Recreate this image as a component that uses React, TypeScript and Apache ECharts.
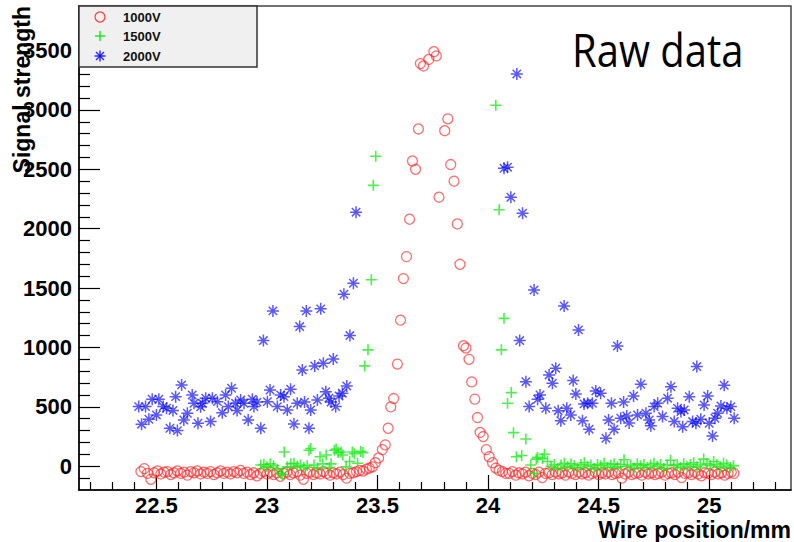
import { useEffect, useRef } from "react";
import * as echarts from "echarts";

// Axis ranges and ticks (wire position in mm, signal in ADC counts)
const X_MIN = 22.15;
const X_MAX = 25.37;
const Y_MIN = -200;
const Y_MAX = 3875;
const xMajorTicks = [22.5, 23, 23.5, 24, 24.5, 25];
const xMinorTicks = [
  22.2, 22.3, 22.4, 22.6, 22.7, 22.8, 22.9, 23.1, 23.2, 23.3, 23.4, 23.6, 23.7, 23.8, 23.9,
  24.1, 24.2, 24.3, 24.4, 24.6, 24.7, 24.8, 24.9, 25.1, 25.2, 25.3,
];
const yMajorTicks = [0, 500, 1000, 1500, 2000, 2500, 3000, 3500];
const yMinorTicks = [
  -100, 100, 200, 300, 400, 600, 700, 800, 900, 1100, 1200, 1300, 1400, 1600, 1700, 1800, 1900,
  2100, 2200, 2300, 2400, 2600, 2700, 2800, 2900, 3100, 3200, 3300, 3400, 3600, 3700, 3800,
];

const seriesNames = ["1000V", "1500V", "2000V"];

// 1000V scan: [position, signal]
const v1000 = [
  [22.43, -45], [22.445, -20], [22.46, -60], [22.475, -110], [22.49, -55], [22.505, -40],
  [22.52, -65], [22.535, -50], [22.55, -45], [22.565, -70], [22.58, -55], [22.595, -40],
  [22.61, -60], [22.625, -50], [22.64, -75], [22.655, -45], [22.67, -55], [22.685, -40],
  [22.7, -65], [22.715, -50], [22.73, -60], [22.745, -45], [22.76, -70], [22.775, -55],
  [22.79, -40], [22.805, -60], [22.82, -50], [22.835, -65], [22.85, -45], [22.865, -55],
  [22.88, -35], [22.895, -60], [22.91, -50], [22.925, -70], [22.94, -55], [22.955, -80],
  [22.97, -60], [22.985, -45], [23.0, -65], [23.015, -50], [23.03, -70], [23.045, -55],
  [23.06, -85], [23.075, -60], [23.09, -50], [23.105, -70], [23.12, -55], [23.135, -45],
  [23.15, -75], [23.165, -110], [23.18, -60], [23.195, -50], [23.21, -70], [23.225, -55],
  [23.24, -65], [23.255, -45], [23.27, -60], [23.285, -75], [23.3, -55], [23.315, -65],
  [23.33, -50], [23.345, -70], [23.36, -100], [23.375, -60], [23.39, -55], [23.405, -45],
  [23.42, -35], [23.435, -40], [23.45, -25], [23.463, -15], [23.477, -5], [23.49, 30],
  [23.505, 70], [23.522, 140], [23.535, 180], [23.548, 320], [23.56, 500], [23.573, 570],
  [23.59, 860], [23.604, 1230], [23.617, 1580], [23.631, 1765], [23.645, 2080], [23.658, 2570],
  [23.672, 2500], [23.685, 2840], [23.694, 3390], [23.708, 3370], [23.732, 3425], [23.755, 3490],
  [23.766, 3455], [23.778, 2265], [23.804, 2825], [23.818, 2925], [23.831, 2540], [23.846, 2400],
  [23.861, 2040], [23.873, 1700], [23.889, 1015], [23.9, 995], [23.914, 900], [23.926, 710],
  [23.94, 565], [23.952, 410], [23.964, 285], [23.978, 250], [23.992, 140], [24.005, 80],
  [24.02, 30], [24.035, -15], [24.05, -35], [24.065, -45], [24.08, -60], [24.095, -60],
  [24.11, -45], [24.125, -75], [24.14, -55], [24.155, -65], [24.17, -50], [24.185, -80],
  [24.2, -60], [24.215, -70], [24.23, -50], [24.245, -95], [24.26, -60], [24.275, -55],
  [24.29, -70], [24.305, -50], [24.32, -65], [24.335, -55], [24.35, -75], [24.365, -50],
  [24.38, -60], [24.395, -70], [24.41, -50], [24.425, -65], [24.44, -55], [24.455, -75],
  [24.47, -60], [24.485, -50], [24.5, -70], [24.515, -55], [24.53, -65], [24.545, -50],
  [24.56, -70], [24.575, -60], [24.59, -55], [24.605, -100], [24.62, -65], [24.635, -50],
  [24.65, -70], [24.665, -60], [24.68, -55], [24.695, -75], [24.71, -50], [24.725, -65],
  [24.74, -55], [24.755, -70], [24.77, -60], [24.785, -50], [24.8, -75], [24.815, -60],
  [24.83, -55], [24.845, -70], [24.86, -50], [24.875, -95], [24.89, -60], [24.905, -55],
  [24.92, -70], [24.935, -50], [24.95, -65], [24.965, -80], [24.98, -55], [24.995, -60],
  [25.01, -70], [25.025, -50], [25.04, -65], [25.055, -55], [25.07, -75], [25.085, -60],
  [25.1, -50], [25.112, -60],
];

// 1500V scan
const v1500 = [
  [22.972, 10], [22.986, 15], [23.0, -5], [23.015, 20], [23.03, 5], [23.047, -25],
  [23.062, -60], [23.07, -70], [23.078, 120], [23.092, -5], [23.108, 20], [23.122, 25],
  [23.137, 0], [23.152, 10], [23.167, -10], [23.182, 5], [23.19, 135], [23.198, 150],
  [23.213, 10], [23.228, -15], [23.24, 80], [23.252, 20], [23.268, 95], [23.282, -10],
  [23.29, 20], [23.305, 135], [23.313, 145], [23.322, 115], [23.335, 120], [23.343, 95],
  [23.358, -5], [23.374, 40], [23.386, 120], [23.395, 105], [23.41, 25], [23.424, 125],
  [23.434, 115], [23.442, 845], [23.457, 980], [23.472, 1570], [23.481, 2365], [23.492, 2610],
  [24.035, 3040], [24.05, 2160], [24.06, 980], [24.072, 1245], [24.088, 530], [24.105, 620],
  [24.115, 283], [24.128, 80], [24.152, 90], [24.171, 230], [24.193, 10], [24.208, -60],
  [24.218, 60], [24.224, 75], [24.246, 65], [24.255, 100], [24.269, 40], [24.285, 0],
  [24.3, 15], [24.315, -20], [24.33, 10], [24.345, 25], [24.36, -5], [24.375, 20],
  [24.39, 5], [24.405, -15], [24.42, 15], [24.435, 30], [24.45, 0], [24.465, 10],
  [24.48, -20], [24.495, 15], [24.51, 5], [24.525, 25], [24.54, -10], [24.555, 10],
  [24.57, 20], [24.585, -5], [24.6, 15], [24.615, 55], [24.63, 0], [24.645, 10],
  [24.66, -15], [24.675, 20], [24.69, 5], [24.705, 15], [24.72, -10], [24.735, 10],
  [24.75, 25], [24.765, 0], [24.78, 15], [24.795, -20], [24.81, 10], [24.825, 50],
  [24.84, 5], [24.855, 15], [24.87, -10], [24.885, 20], [24.9, 0], [24.915, 15],
  [24.93, 30], [24.945, -5], [24.96, 10], [24.975, 60], [24.99, 20], [25.005, 5],
  [25.02, 40], [25.035, 15], [25.05, -5], [25.065, 25], [25.08, 10], [25.095, -10],
  [25.11, 5],
];

// 2000V scan
const v2000 = [
  [22.42, 502], [22.433, 354], [22.451, 502], [22.466, 396], [22.481, 564], [22.5, 432],
  [22.511, 564], [22.531, 502], [22.546, 488], [22.561, 320], [22.575, 470], [22.587, 586],
  [22.595, 300], [22.614, 685], [22.624, 390], [22.64, 446], [22.662, 600], [22.67, 530],
  [22.688, 362], [22.7, 500], [22.708, 530], [22.723, 573], [22.745, 376], [22.753, 573],
  [22.776, 544], [22.798, 451], [22.813, 600], [22.825, 502], [22.84, 657], [22.858, 530],
  [22.865, 470], [22.881, 558], [22.896, 530], [22.915, 390], [22.934, 564], [22.941, 502],
  [22.955, 540], [22.972, 320], [22.984, 1058], [23.002, 544], [23.014, 642], [23.027, 1308],
  [23.047, 502], [23.062, 600], [23.077, 586], [23.092, 474], [23.107, 648], [23.122, 356],
  [23.137, 530], [23.148, 1176], [23.16, 811], [23.17, 540], [23.178, 1308], [23.19, 320],
  [23.198, 474], [23.216, 845], [23.228, 558], [23.243, 1325], [23.255, 867], [23.266, 628],
  [23.28, 573], [23.29, 540], [23.3, 903], [23.311, 502], [23.326, 592], [23.341, 615],
  [23.348, 1448], [23.361, 676], [23.375, 1100], [23.391, 1541], [23.403, 2139],
  [24.072, 2509], [24.088, 2518], [24.103, 2265], [24.13, 3303], [24.143, 1058], [24.156, 2130],
  [24.171, 712], [24.186, 502], [24.208, 1484], [24.224, 564], [24.235, 600], [24.261, 488],
  [24.276, 769], [24.291, 699], [24.306, 825], [24.317, 468], [24.329, 384], [24.344, 1350],
  [24.356, 488], [24.374, 432], [24.385, 721], [24.397, 609], [24.409, 1148], [24.427, 384],
  [24.434, 525], [24.45, 530], [24.457, 312], [24.472, 530], [24.487, 634], [24.509, 615],
  [24.533, 236], [24.545, 390], [24.558, 530], [24.57, 312], [24.585, 1013], [24.6, 404],
  [24.613, 540], [24.627, 424], [24.638, 365], [24.658, 592], [24.676, 432], [24.691, 690],
  [24.714, 446], [24.729, 390], [24.736, 340], [24.751, 502], [24.767, 530], [24.789, 418],
  [24.812, 573], [24.827, 670], [24.842, 376], [24.857, 488], [24.872, 460], [24.88, 333],
  [24.887, 474], [24.91, 586], [24.925, 376], [24.94, 362], [24.944, 839], [24.962, 396],
  [24.977, 516], [24.993, 592], [25.0, 362], [25.015, 255], [25.026, 404], [25.038, 446],
  [25.053, 508], [25.068, 682], [25.08, 488], [25.098, 502], [25.113, 404],
];

const RED = "rgba(255,40,40,0.85)";
const GREEN = "rgba(20,235,20,0.95)";
const BLUE = "rgba(10,10,255,0.85)";
const FONT = "'Liberation Sans', Arial, Helvetica, sans-serif";

const PLUS = "path://M0,5L10,5M5,0L5,10";
const STAR = "path://M0,5L10,5M5,0L5,10M1.5,1.5L8.5,8.5M8.5,1.5L1.5,8.5";

function legendMarkers(cx: number, cy: number[]) {
  const z = 101;
  const items: any[] = [];
  items.push({ type: "circle", z, shape: { cx, cy: cy[0], r: 5 }, style: { fill: "none", stroke: RED, lineWidth: 1.3 } });
  items.push({ type: "line", z, shape: { x1: cx - 5, y1: cy[1], x2: cx + 5, y2: cy[1] }, style: { stroke: GREEN, lineWidth: 1.5 } });
  items.push({ type: "line", z, shape: { x1: cx, y1: cy[1] - 5, x2: cx, y2: cy[1] + 5 }, style: { stroke: GREEN, lineWidth: 1.5 } });
  const s = 5.5;
  const d = 4;
  [
    [-s, 0, s, 0],
    [0, -s, 0, s],
    [-d, -d, d, d],
    [d, -d, -d, d],
  ].forEach(([a, b, c, e]) =>
    items.push({ type: "line", z, shape: { x1: cx + a, y1: cy[2] + b, x2: cx + c, y2: cy[2] + e }, style: { stroke: BLUE, lineWidth: 1.5 } })
  );
  return items;
}

export default function App() {
  const ref = useRef<HTMLDivElement>(null);

  useEffect(() => {
    if (!ref.current) return;
    const chart = echarts.init(ref.current, null, { renderer: "svg" });

    const legendY = [17, 36, 56];
    const option: any = {
      animation: false,
      backgroundColor: "#ffffff",
      grid: {
        left: 79,
        right: 3,
        top: 6,
        bottom: 52,
        show: true,
        borderColor: "#444",
        borderWidth: 1.5,
        outerBoundsMode: "none",
      },
      xAxis: [
        {
          type: "value",
          min: X_MIN,
          max: X_MAX,
          position: "bottom",
          axisLine: { show: true, onZero: false, lineStyle: { color: "#000", width: 1.5 } },
          axisTick: { show: true, inside: true, length: 15, customValues: xMajorTicks, lineStyle: { color: "#000", width: 1.2 } },
          axisLabel: {
            customValues: xMajorTicks,
            formatter: (v: number) => String(v),
            fontSize: 22,
            lineHeight: 22,
            fontWeight: "bold",
            fontFamily: FONT,
            color: "#000",
            margin: 4,
          },
          splitLine: { show: false },
        },
        {
          type: "value",
          min: X_MIN,
          max: X_MAX,
          position: "bottom",
          axisLine: { show: false, onZero: false },
          axisTick: { show: true, inside: true, length: 8, customValues: xMinorTicks, lineStyle: { color: "#000", width: 1.2 } },
          axisLabel: { show: false },
          splitLine: { show: false },
        },
      ],
      yAxis: [
        {
          type: "value",
          min: Y_MIN,
          max: Y_MAX,
          position: "left",
          axisLine: { show: true, onZero: false, lineStyle: { color: "#000", width: 1.5 } },
          axisTick: { show: true, inside: true, length: 21, customValues: yMajorTicks, lineStyle: { color: "#000", width: 1.2 } },
          axisLabel: {
            customValues: yMajorTicks,
            formatter: (v: number) => String(v),
            fontSize: 22,
            fontWeight: "bold",
            fontFamily: FONT,
            color: "#000",
            margin: 7,
          },
          splitLine: { show: false },
        },
        {
          type: "value",
          min: Y_MIN,
          max: Y_MAX,
          position: "left",
          axisLine: { show: false, onZero: false },
          axisTick: { show: true, inside: true, length: 11, customValues: yMinorTicks, lineStyle: { color: "#000", width: 1.2 } },
          axisLabel: { show: false },
          splitLine: { show: false },
        },
      ],
      series: [
        {
          name: seriesNames[0],
          type: "scatter",
          data: v1000,
          symbol: "circle",
          symbolSize: 10,
          itemStyle: { color: "rgba(0,0,0,0)", borderColor: RED, borderWidth: 1.3 },
          emphasis: { disabled: true },
          z: 3,
        },
        {
          name: seriesNames[1],
          type: "scatter",
          data: v1500,
          symbol: PLUS,
          symbolSize: 11,
          itemStyle: { color: "rgba(0,0,0,0)", borderColor: GREEN, borderWidth: 1.6 },
          emphasis: { disabled: true },
          z: 4,
        },
        {
          name: seriesNames[2],
          type: "scatter",
          data: v2000,
          symbol: STAR,
          symbolSize: 12,
          itemStyle: { color: "rgba(0,0,0,0)", borderColor: BLUE, borderWidth: 1.5 },
          emphasis: { disabled: true },
          z: 5,
        },
      ],
      graphic: [
        {
          type: "rect",
          z: 100,
          shape: { x: 79, y: 6, width: 178, height: 61 },
          style: { fill: "#f0f0f0", stroke: "#333", lineWidth: 1.5 },
        },
        ...legendMarkers(100, legendY),
        ...seriesNames.map((name, i) => ({
          type: "text",
          z: 101,
          x: 123,
          y: legendY[i],
          style: {
            text: name,
            fontSize: 13,
            fontWeight: "bold",
            fontFamily: FONT,
            fill: "#111",
            verticalAlign: "middle",
            align: "left",
          },
        })),
        {
          type: "text",
          z: 101,
          x: 22,
          y: 6,
          rotation: Math.PI / 2,
          style: {
            text: "Signal strength",
            fontSize: 23,
            fontWeight: "bold",
            fontFamily: FONT,
            fill: "#000",
            align: "right",
            verticalAlign: "middle",
          },
        },
        {
          type: "text",
          z: 101,
          x: 791,
          y: 530,
          style: {
            text: "Wire position/mm",
            fontSize: 23,
            lineHeight: 23,
            fontWeight: "bold",
            fontFamily: FONT,
            fill: "#000",
            align: "right",
            verticalAlign: "middle",
          },
        },
        {
          type: "text",
          z: 101,
          x: 572,
          y: 49,
          scaleY: 1.15,
          style: {
            text: "Raw data",
            fontSize: 40,
            fontFamily: "'Open Sans', 'Noto Sans', sans-serif",
            fill: "#000",
            align: "left",
            verticalAlign: "middle",
          },
        },
      ],
    };

    chart.setOption(option);
    return () => chart.dispose();
  }, []);

  return (
    <div
      ref={ref}
      style={{ position: "fixed", left: 0, top: 0, width: 794, height: 542, background: "#fff" }}
    />
  );
}
